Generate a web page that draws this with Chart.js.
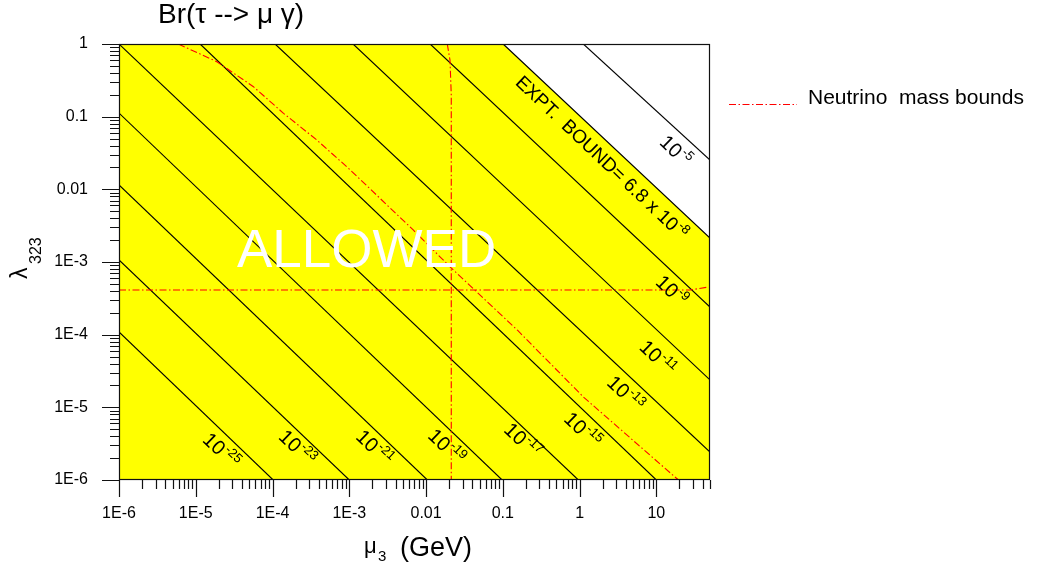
<!DOCTYPE html>
<html>
<head>
<meta charset="utf-8">
<script src="https://cdn.jsdelivr.net/npm/chart.js@4.4.1/dist/chart.umd.min.js"></script>
<style>
  body { margin: 0; background: #fff; }
  #wrap { width: 1039px; height: 575px; position: relative; }
</style>
</head>
<body>
<div id="wrap"><canvas id="chart"></canvas></div>
<script>
// Br(tau -> mu gamma) contours
const xTickLabels = ['1E-6', '1E-5', '1E-4', '1E-3', '0.01', '0.1', '1', '10'];
const yTickLabels = ['1E-6', '1E-5', '1E-4', '1E-3', '0.01', '0.1', '1'];

// contour lines: exponent of Br, endpoints (mu, lambda)
const contourExp = [-25, -23, -21, -19, -17, -15, -13, -11, -9];
const contourMu = [[1e-6, 1.02e-4], [1e-6, 1e-3], [1e-6, 0.0104], [1e-6, 0.098], [1e-6, 0.964],
                   [1.14e-5, 10], [1.08e-4, 50], [1.12e-3, 50], [0.0113, 50]];
const contourLam = [[1.09e-4, 1e-6], [1.07e-3, 1e-6], [0.0115, 1e-6], [0.112, 1e-6], [1, 1e-6],
                    [1, 1e-6], [1, 2.43e-6], [1, 2.38e-5], [1, 2.4e-4]];
// where each contour label sits
const labelMu = [2.2e-5, 2.15e-4, 2.17e-3, 0.0189, 0.185, 1.12, 4.06, 10.6, 16.2];
const labelLam = [2.6e-6, 2.85e-6, 2.85e-6, 2.94e-6, 3.56e-6, 5.0e-6, 1.58e-5, 4.93e-5, 4.12e-4];

// experimental bound (6.8e-8) and the 1e-5 contour
const boundMu = [1e-6, 0.101, 50];
const boundLam = [1, 1, 2.14e-3];
const boundLabelPos = [1.98, 0.0279];
const br5Mu = [1.12, 50];
const br5Lam = [1, 0.0253];
const br5LabelPos = [18.2, 0.0348];

// neutrino mass bounds
const nuCurveMu = [5.93e-6, 1.88e-5, 5.64e-5, 1.39e-4, 3.78e-4, 9.75e-4, 6.8e-3, 0.0207, 0.154, 1.12, 19.4];
const nuCurveLam = [1, 0.571, 0.2585, 0.1112, 0.0477, 0.0195, 2.76e-3, 8.5e-4, 1.16e-4, 1.39e-5, 1e-6];
const nuHorizMu = [1e-6, 27.6, 46];
const nuHorizLam = [4.12e-4, 4.12e-4, 4.5e-4];
const nuVertMu = [0.0189, 0.0205, 0.0213, 0.0213];
const nuVertLam = [1, 0.6, 0.2, 1e-6];

const FONT = '"Liberation Sans", Arial, sans-serif';
const RED = '#ff0000';
const DASH = [7, 2.5, 1.5, 2.5];

const pts = (xs, ys) => xs.map((v, i) => ({ x: v, y: ys[i] }));

// log ticks: decades are major, 2..9 are minor
function logTicks(minExp, maxExp, max) {
  const ticks = [];
  for (let e = minExp; e <= maxExp; e++) {
    for (let m = 1; m <= 9; m++) {
      const v = m * Math.pow(10, e);
      if (v > max * 1.0001) break;
      ticks.push({ value: v, major: m === 1 });
    }
  }
  return ticks;
}

function decadeLabel(v, labels, first) {
  const e = Math.round(Math.log10(v));
  return Math.abs(v - Math.pow(10, e)) < Math.pow(10, e) * 1e-6 ? labels[e - first] : '';
}

const datasets = [];
datasets.push({
  label: 'bound', data: pts(boundMu, boundLam), borderColor: '#000', borderWidth: 1.2,
  backgroundColor: '#ffff00', fill: 'start', order: 10
});
datasets.push({
  label: 'br5', data: pts(br5Mu, br5Lam), borderColor: '#000', borderWidth: 1.1, fill: false, order: 5
});
contourExp.forEach((e, i) => {
  datasets.push({
    label: '1e' + e, data: pts(contourMu[i], contourLam[i]),
    borderColor: '#000', borderWidth: 1.1, fill: false, order: 5
  });
});
[[nuCurveMu, nuCurveLam], [nuHorizMu, nuHorizLam], [nuVertMu, nuVertLam]].forEach(([m, l], i) => {
  datasets.push({
    label: i === 0 ? 'Neutrino  mass bounds' : 'nu' + i, data: pts(m, l),
    borderColor: RED, borderWidth: 1.1, borderDash: DASH, fill: false, order: 1
  });
});

function drawPow(ctx, base, exp, size, expSize) {
  // draws "base" with raised exponent, centred on the origin
  ctx.font = size + 'px ' + FONT;
  const wb = ctx.measureText(base).width;
  ctx.font = expSize + 'px ' + FONT;
  const we = ctx.measureText(exp).width;
  const w = wb + 1 + we;
  ctx.textBaseline = 'alphabetic';
  ctx.textAlign = 'left';
  ctx.font = size + 'px ' + FONT;
  ctx.fillText(base, -w / 2, size * 0.38);
  ctx.font = expSize + 'px ' + FONT;
  ctx.fillText(exp, -w / 2 + wb + 1, size * 0.38 - size * 0.42);
}

const overlay = {
  id: 'overlay',
  afterDatasetsDraw(chart) {
    const { ctx, scales: { x, y } } = chart;
    ctx.save();
    ctx.fillStyle = '#000';
    const ang = Math.atan2(y.getPixelForValue(0.1) - y.getPixelForValue(1),
                           x.getPixelForValue(10) - x.getPixelForValue(1));

    // contour labels
    contourExp.forEach((e, i) => {
      ctx.save();
      ctx.translate(x.getPixelForValue(labelMu[i]), y.getPixelForValue(labelLam[i]));
      ctx.rotate(ang);
      drawPow(ctx, '10', String(e), 20, 13);
      ctx.restore();
    });
    ctx.save();
    ctx.translate(x.getPixelForValue(br5LabelPos[0]), y.getPixelForValue(br5LabelPos[1]));
    ctx.rotate(ang);
    drawPow(ctx, '10', '-5', 20, 13);
    ctx.restore();
    ctx.save();
    ctx.translate(x.getPixelForValue(boundLabelPos[0]), y.getPixelForValue(boundLabelPos[1]));
    ctx.rotate(ang);
    drawPow(ctx, 'EXPT.  BOUND= 6.8 x 10', '-8', 19, 13);
    ctx.restore();

    // ALLOWED
    ctx.fillStyle = '#fff';
    ctx.font = '53px ' + FONT;
    ctx.textAlign = 'left';
    ctx.textBaseline = 'alphabetic';
    ctx.fillText('ALLOWED', 237, 267);
    ctx.restore();
  },
  afterDraw(chart) {
    const { ctx, chartArea: a, scales: { x, y } } = chart;
    ctx.save();
    ctx.strokeStyle = '#111';
    ctx.lineWidth = 1.2;
    // frame
    ctx.strokeRect(Math.round(a.left) + 0.5, Math.round(a.top) + 0.5,
                   Math.round(a.right - a.left) - 1, Math.round(a.bottom - a.top) - 1);
    // tick marks
    ctx.beginPath();
    x.ticks.forEach(t => {
      const px = Math.round(x.getPixelForValue(t.value)) + 0.5;
      ctx.moveTo(px, a.bottom);
      ctx.lineTo(px, a.bottom + (t.major ? 17 : 9));
    });
    y.ticks.forEach(t => {
      const py = Math.round(y.getPixelForValue(t.value)) + 0.5;
      ctx.moveTo(a.left, py);
      ctx.lineTo(a.left - (t.major ? 17 : 9), py);
    });
    ctx.stroke();

    ctx.fillStyle = '#000';
    ctx.textAlign = 'left';
    ctx.textBaseline = 'alphabetic';
    // title
    ctx.font = '28px ' + FONT;
    ctx.fillText('Br(\u03C4 --> \u03BC \u03B3)', 158, 23);

    // x title
    ctx.font = '22px ' + FONT;
    ctx.fillText('\u03BC', 364, 553);
    ctx.font = '15px ' + FONT;
    ctx.fillText('3', 378, 561);
    ctx.font = '27px ' + FONT;
    ctx.fillText('(GeV)', 400, 556);

    // y title
    ctx.save();
    ctx.translate(27, 279);
    ctx.rotate(-Math.PI / 2);
    ctx.font = '23px ' + FONT;
    ctx.fillText('\u03BB', 0, 0);
    ctx.font = '16px ' + FONT;
    ctx.fillText('323', 15, 14);
    ctx.restore();

    // legend
    ctx.strokeStyle = RED;
    ctx.lineWidth = 1.1;
    ctx.setLineDash(DASH);
    ctx.beginPath();
    ctx.moveTo(729, 104.5);
    ctx.lineTo(797, 104.5);
    ctx.stroke();
    ctx.setLineDash([]);
    ctx.font = '21px ' + FONT;
    ctx.fillText('Neutrino  mass bounds', 808, 104);
    ctx.restore();
  }
};

new Chart(document.getElementById('chart'), {
  type: 'scatter',
  data: { datasets },
  options: {
    responsive: true,
    maintainAspectRatio: false,
    animation: false,
    devicePixelRatio: 1,
    showLine: true,
    elements: { point: { radius: 0, hoverRadius: 0 }, line: { tension: 0 } },
    layout: { padding: { top: 44, right: 329, left: 0, bottom: 0 } },
    plugins: {
      legend: { display: false },
      tooltip: { enabled: false },
      filler: { drawTime: 'beforeDatasetsDraw' }
    },
    scales: {
      x: {
        type: 'logarithmic', min: 1e-6, max: 50,
        grid: { display: false },
        border: { display: false },
        afterBuildTicks: s => { s.ticks = logTicks(-6, 1, 50); },
        afterFit: s => { s.height = 95; },
        ticks: {
          autoSkip: false, maxRotation: 0, padding: 16, color: '#000',
          font: { family: FONT, size: 16 },
          callback: v => decadeLabel(v, xTickLabels, -6)
        }
      },
      y: {
        type: 'logarithmic', min: 1e-6, max: 1,
        grid: { display: false },
        border: { display: false },
        afterBuildTicks: s => { s.ticks = logTicks(-6, 0, 1); },
        afterFit: s => { s.width = 119; },
        ticks: {
          autoSkip: false, padding: 23, color: '#000',
          font: { family: FONT, size: 16 },
          callback: v => decadeLabel(v, yTickLabels, -6)
        }
      }
    }
  },
  plugins: [overlay]
});
</script>
</body>
</html>
